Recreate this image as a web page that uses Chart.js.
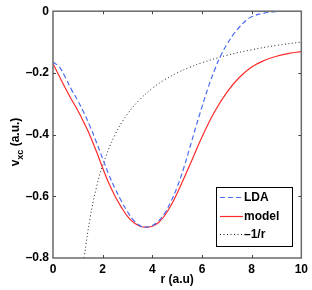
<!DOCTYPE html>
<html>
<head>
<meta charset="utf-8">
<script src="https://cdn.jsdelivr.net/npm/chart.js@4.4.1/dist/chart.umd.min.js"></script>
<style>
html, body { margin: 0; padding: 0; background: #fff; }
</style>
</head>
<body>
<canvas id="vxcChart" width="312" height="290"></canvas>
<script>
// values
const rLDA = [0, 0.25, 0.5, 0.75, 1, 1.25, 1.5, 1.75, 2, 2.25, 2.5, 2.75, 3, 3.25, 3.5, 3.75, 4, 4.25, 4.5, 4.75, 5, 5.25, 5.5, 5.75, 6, 6.25, 6.5, 6.75, 7, 7.25, 7.5, 7.75, 8, 8.5, 9, 9.5, 10];
const vLDA = [-0.165, -0.18, -0.215, -0.255, -0.29, -0.33, -0.375, -0.425, -0.478, -0.53, -0.575, -0.615, -0.65, -0.678, -0.695, -0.70, -0.695, -0.68, -0.655, -0.617, -0.57, -0.512, -0.445, -0.376, -0.31, -0.247, -0.192, -0.145, -0.108, -0.077, -0.052, -0.032, -0.018, -0.006, -0.001, 0, 0];

const rModel = [0, 0.25, 0.5, 0.75, 1, 1.25, 1.5, 1.75, 2, 2.25, 2.5, 2.75, 3, 3.25, 3.5, 3.75, 4, 4.25, 4.5, 4.75, 5, 5.5, 6, 6.5, 7, 7.5, 8, 8.5, 9, 9.5, 10];
const vModel = [-0.17, -0.21, -0.25, -0.287, -0.322, -0.362, -0.405, -0.455, -0.508, -0.558, -0.60, -0.635, -0.665, -0.685, -0.697, -0.70, -0.697, -0.685, -0.662, -0.63, -0.59, -0.50, -0.408, -0.327, -0.263, -0.215, -0.181, -0.16, -0.146, -0.137, -0.131];

const rInv = [1.25, 1.5, 1.75, 2, 2.5, 3, 3.5, 4, 4.5, 5, 5.5, 6, 7, 8, 9, 10];
const vInv = [-0.8, -0.667, -0.571, -0.5, -0.4, -0.333, -0.286, -0.25, -0.222, -0.2, -0.182, -0.167, -0.143, -0.125, -0.111, -0.1];

const labels = ['LDA', 'model', '\u20131/r'];
const xTicks = [0, 2, 4, 6, 8, 10];
const yTicks = [0, -0.2, -0.4, -0.6, -0.8];

const FONT = 'Liberation Sans, Arial, Helvetica, sans-serif';

function toPoints(xs, ys) {
    return xs.map((x, i) => ({x: x, y: ys[i]}));
}

function dashLabel(v) {
    if (v === 0) return '0';
    return (v < 0 ? '\u2013' : '') + Math.abs(v).toFixed(1);
}

// box frame with inward ticks, y label with subscript, boxed legend
const matlabLook = {
    id: 'matlabLook',
    afterDatasetsDraw(chart) {
        const ctx = chart.ctx;
        const a = chart.chartArea;
        const xs = chart.scales.x;
        const ys = chart.scales.y;
        ctx.save();
        ctx.strokeStyle = '#6a6a6a';
        ctx.lineWidth = 1.5;
        ctx.strokeRect(a.left, a.top, a.right - a.left, a.bottom - a.top);
        ctx.lineWidth = 1;
        ctx.strokeStyle = '#444';
        ctx.beginPath();
        xTicks.slice(1, -1).forEach(t => {
            const px = Math.round(xs.getPixelForValue(t)) + 0.5;
            ctx.moveTo(px, a.bottom); ctx.lineTo(px, a.bottom - 3);
            ctx.moveTo(px, a.top); ctx.lineTo(px, a.top + 3);
        });
        yTicks.slice(1, -1).forEach(t => {
            const py = Math.round(ys.getPixelForValue(t)) + 0.5;
            ctx.moveTo(a.left, py); ctx.lineTo(a.left + 3, py);
            ctx.moveTo(a.right, py); ctx.lineTo(a.right - 3, py);
        });
        ctx.stroke();
        ctx.restore();
    },
    afterDraw(chart) {
        const ctx = chart.ctx;
        // y axis title: v_xc (a.u.)
        ctx.save();
        ctx.translate(0, 142);
        ctx.rotate(-Math.PI / 2);
        ctx.fillStyle = '#000';
        ctx.textBaseline = 'alphabetic';
        const big = 'bold 12px ' + FONT;
        const small = 'bold 9px ' + FONT;
        ctx.font = big;
        const wv = ctx.measureText('v').width;
        const wu = ctx.measureText(' (a.u.)').width;
        ctx.font = small;
        const wx = ctx.measureText('xc').width;
        let x0 = -(wv + wx + wu) / 2;
        ctx.font = big;
        ctx.fillText('v', x0, 19);
        ctx.font = small;
        ctx.fillText('xc', x0 + wv, 23);
        ctx.font = big;
        ctx.fillText(' (a.u.)', x0 + wv + wx, 19);
        ctx.restore();

        // legend box
        const lx = 216, ly = 187, lw = 76, lh = 59;
        const rows = [197, 215.5, 234];
        ctx.save();
        ctx.fillStyle = '#fff';
        ctx.fillRect(lx, ly, lw, lh);
        ctx.strokeStyle = '#000';
        ctx.lineWidth = 1;
        ctx.strokeRect(lx + 0.5, ly + 0.5, lw, lh);
        chart.data.datasets.forEach((ds, i) => {
            const y = Math.round(rows[i]) + 0.5;
            ctx.strokeStyle = ds.borderColor;
            ctx.lineWidth = ds.borderWidth;
            ctx.setLineDash(ds.borderDash || []);
            ctx.beginPath();
            ctx.moveTo(220, y); ctx.lineTo(243, y);
            ctx.stroke();
            ctx.setLineDash([]);
            ctx.fillStyle = '#000';
            ctx.font = 'bold 12px ' + FONT;
            ctx.textBaseline = 'middle';
            ctx.fillText(ds.label, 244, y);
        });
        ctx.restore();
    }
};

const ctx = document.getElementById('vxcChart').getContext('2d');
const vxcChart = new Chart(ctx, {
    type: 'scatter',
    data: {
        datasets: [
            {
                label: labels[0],
                data: toPoints(rLDA, vLDA),
                showLine: true,
                borderColor: '#4a6cf7',
                borderWidth: 1.2,
                borderDash: [5, 3],
                pointRadius: 0,
                tension: 0.4
            },
            {
                label: labels[1],
                data: toPoints(rModel, vModel),
                showLine: true,
                borderColor: '#ff2a2a',
                borderWidth: 1.2,
                pointRadius: 0,
                tension: 0.4
            },
            {
                label: labels[2],
                data: toPoints(rInv, vInv),
                showLine: true,
                borderColor: '#222',
                borderWidth: 1,
                borderDash: [1, 2.5],
                pointRadius: 0,
                tension: 0.4
            }
        ]
    },
    options: {
        responsive: false,
        devicePixelRatio: 1,
        animation: false,
        layout: { padding: { top: 10, right: 10, left: 0, bottom: 0 } },
        plugins: {
            legend: { display: false },
            tooltip: { enabled: false }
        },
        scales: {
            x: {
                type: 'linear',
                min: 0,
                max: 10,
                afterFit: s => { s.height = 32; },
                afterBuildTicks: s => { s.ticks = xTicks.map(v => ({value: v})); },
                grid: { display: false, drawTicks: false },
                border: { display: false },
                ticks: {
                    padding: 4,
                    maxRotation: 0,
                    autoSkip: false,
                    color: '#000',
                    font: { family: FONT, size: 12, weight: 'bold' }
                },
                title: {
                    display: true,
                    text: 'r (a.u)',
                    color: '#000',
                    padding: { top: 0, bottom: 3 },
                    font: { family: FONT, size: 12, weight: 'bold' }
                }
            },
            y: {
                type: 'linear',
                min: -0.8,
                max: 0,
                afterFit: s => { s.width = 53; },
                afterBuildTicks: s => { s.ticks = yTicks.map(v => ({value: v})); },
                grid: { display: false, drawTicks: false },
                border: { display: false },
                ticks: {
                    padding: 4,
                    color: '#000',
                    font: { family: FONT, size: 12, weight: 'bold' },
                    callback: v => dashLabel(v)
                }
            }
        }
    },
    plugins: [matlabLook]
});
</script>
</body>
</html>
